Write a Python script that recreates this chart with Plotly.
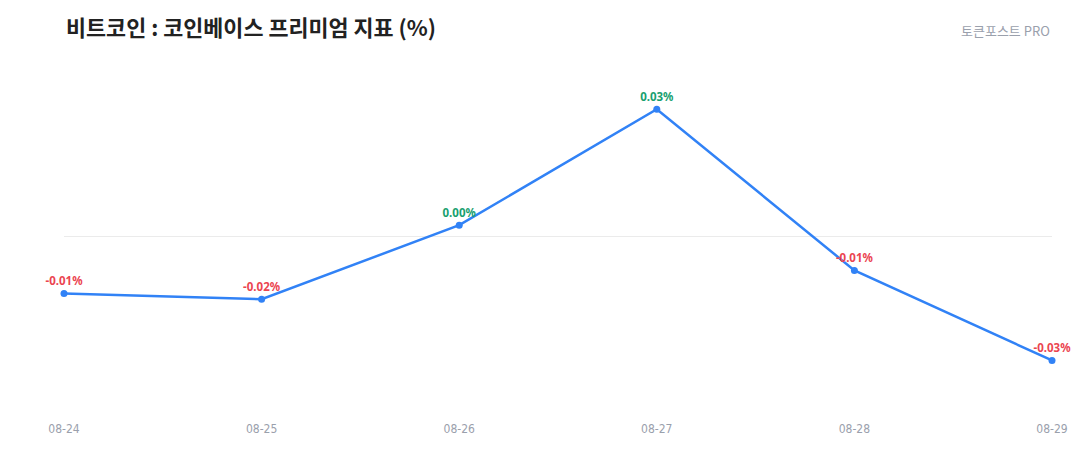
import plotly.graph_objects as go

dates = ["08-24", "08-25", "08-26", "08-27", "08-28", "08-29"]
premium = [-0.0143, -0.0157, 0.0028, 0.0318, -0.0085, -0.031]

labels = [f"{v:.2f}%" for v in premium]
label_colors = ["#18a06f" if v >= 0 else "#eb4450" for v in premium]

fig = go.Figure()
fig.add_trace(go.Scatter(
    x=list(range(len(dates))), y=premium,
    mode="lines+markers+text",
    line=dict(color="#3182f6", width=2.5),
    marker=dict(color="#3182f6", size=7),
    text=labels, textposition="top center",
    textfont=dict(family="Noto Sans", size=11.5, color=label_colors, weight="bold"),
    cliponaxis=False, hoverinfo="skip", showlegend=False,
))

fig.update_layout(
    width=1064, height=444,
    margin=dict(l=56, r=20, t=52, b=42),
    paper_bgcolor="white", plot_bgcolor="white",
    xaxis=dict(range=[0, 5], tickmode="array", tickvals=list(range(len(dates))),
               ticktext=dates, showgrid=False, zeroline=False, showline=False,
               tickfont=dict(family="DejaVu Sans Condensed", size=12, color="#9aa0ac"),
               ticks="", ticklen=0, ticklabelstandoff=10, automargin=False,
               fixedrange=True),
    yaxis=dict(range=[-0.0434, 0.0441], showgrid=False, showticklabels=False,
               zeroline=True, zerolinecolor="#ebebeb", zerolinewidth=1.2,
               showline=False, automargin=False, fixedrange=True),
    annotations=[
        dict(text="<b>비트코인 : 코인베이스 프리미엄 지표 (%)</b>", xref="paper", yref="paper",
             x=0, y=1, xanchor="left", yanchor="middle",
             yshift=34, showarrow=False,
             font=dict(family="Noto Sans CJK KR", size=21.8, color="#222222")),
        dict(text="토큰포스트 PRO", xref="paper", yref="paper",
             x=1, y=1, xanchor="right", yanchor="middle",
             yshift=30, showarrow=False,
             font=dict(family="Noto Sans CJK KR", size=13, color="#9aa0ac")),
    ],
)

fig.write_html("out.html")
